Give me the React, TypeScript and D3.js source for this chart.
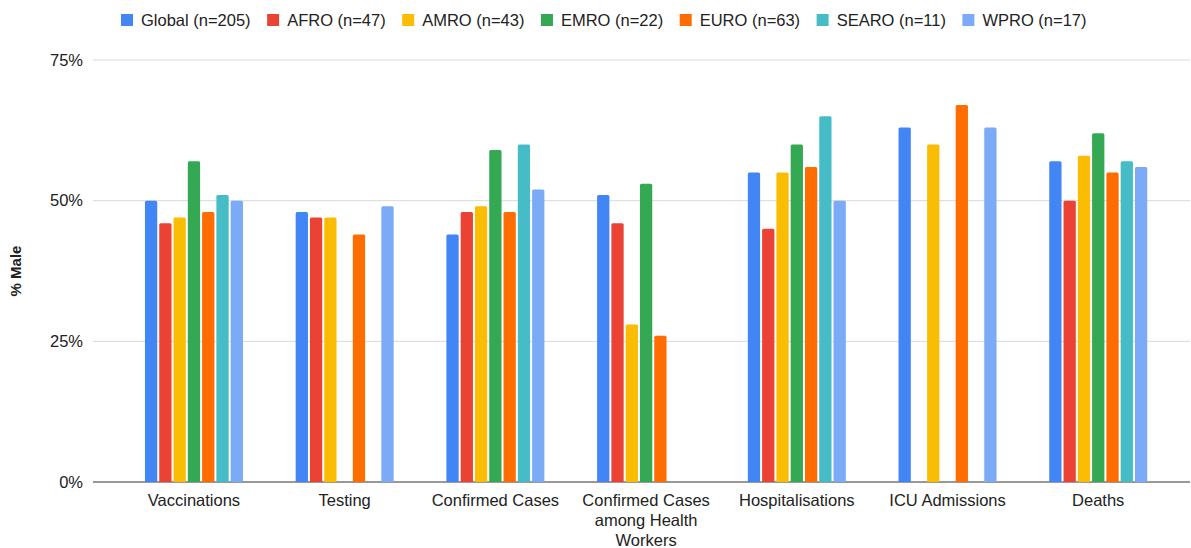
import React, { useEffect, useRef } from 'react';
import * as d3 from 'd3';

const categories = ['Vaccinations', 'Testing', 'Confirmed Cases', 'Confirmed Cases among Health Workers', 'Hospitalisations', 'ICU Admissions', 'Deaths'];
const categoryLines = [['Vaccinations'], ['Testing'], ['Confirmed Cases'], ['Confirmed Cases', 'among Health', 'Workers'], ['Hospitalisations'], ['ICU Admissions'], ['Deaths']];

const seriesNames = ['Global (n=205)', 'AFRO (n=47)', 'AMRO (n=43)', 'EMRO (n=22)', 'EURO (n=63)', 'SEARO (n=11)', 'WPRO (n=17)'];
const colors = ['#4285F4', '#EA4335', '#FBBC04', '#34A853', '#FF6D01', '#46BDC6', '#7BAAF7'];

// % male per category, one array per series (null = no data)
const globalVals = [50, 48, 44, 51, 55, 63, 57];
const afroVals = [46, 47, 48, 46, 45, null, 50];
const amroVals = [47, 47, 49, 28, 55, 60, 58];
const emroVals = [57, null, 59, 53, 60, null, 62];
const euroVals = [48, 44, 48, 26, 56, 67, 55];
const searoVals = [51, null, 60, null, 65, null, 57];
const wproVals = [50, 49, 52, null, 50, 63, 56];
const seriesValues = [globalVals, afroVals, amroVals, emroVals, euroVals, searoVals, wproVals];

const yTicks = [0, 25, 50, 75];

export default function App() {
    const ref = useRef<SVGSVGElement | null>(null);

    useEffect(() => {
        const svg = d3.select(ref.current);
        svg.selectAll('*').remove();
        const width = 1191, height = 548;
        const font = '"Liberation Sans", Arial, sans-serif';
        const gridLeft = 93, gridRight = 1190;

        const x = d3.scaleBand<string>().domain(categories).range([118.6, 1173.6]);
        const xs = d3.scaleBand<string>().domain(seriesNames).range([-49, 49]).paddingInner(0.14);
        const y = d3.scaleLinear().domain([0, 75]).range([482, 60]);

        svg.attr('viewBox', `0 0 ${width} ${height}`).style('font-family', font);

        // grid
        svg.append('g').selectAll('line').data(yTicks).join('line')
            .attr('x1', gridLeft).attr('x2', gridRight)
            .attr('y1', d => y(d)).attr('y2', d => y(d))
            .attr('stroke', d => d === 0 ? '#333' : '#d9d9d9')
            .attr('stroke-width', 1);

        svg.append('g').selectAll('text').data(yTicks).join('text')
            .attr('x', 83).attr('y', d => y(d)).attr('dy', '0.35em')
            .attr('text-anchor', 'end').attr('font-size', 16.5).attr('fill', '#222')
            .text(d => d + '%');

        svg.append('text')
            .attr('transform', `translate(21,${y(37.5)}) rotate(-90)`)
            .attr('text-anchor', 'middle').attr('font-size', 15).attr('font-weight', 'bold').attr('fill', '#222')
            .text('% Male');

        // bars
        seriesNames.forEach((name, si) => {
            const data = categories.map((c, ci) => ({ c, v: seriesValues[si][ci] })).filter(d => d.v != null) as { c: string, v: number }[];
            svg.append('g').selectAll('path').data(data).join('path')
                .attr('fill', colors[si])
                .attr('d', d => {
                    const x0 = (x(d.c) as number) + x.bandwidth() / 2 + (xs(name) as number);
                    const w = xs.bandwidth();
                    const y0 = y(d.v), y1 = y(0), r = 1.5;
                    return `M${x0},${y1}V${y0 + r}Q${x0},${y0} ${x0 + r},${y0}H${x0 + w - r}Q${x0 + w},${y0} ${x0 + w},${y0 + r}V${y1}Z`;
                });
        });

        // x labels
        const xl = svg.append('g');
        categories.forEach((c, ci) => {
            const t = xl.append('text')
                .attr('x', (x(c) as number) + x.bandwidth() / 2)
                .attr('y', 506)
                .attr('text-anchor', 'middle').attr('font-size', 16.5).attr('fill', '#222');
            categoryLines[ci].forEach((line, li) => {
                t.append('tspan').attr('x', (x(c) as number) + x.bandwidth() / 2).attr('dy', li === 0 ? 0 : 20).text(line);
            });
        });

        // legend
        const legend = svg.append('g');
        let lx = 121;
        seriesNames.forEach((name, si) => {
            legend.append('rect').attr('x', lx).attr('y', 14).attr('width', 12).attr('height', 12).attr('fill', colors[si]);
            const t = legend.append('text').attr('x', lx + 20).attr('y', 20).attr('dy', '0.35em')
                .attr('font-size', 16.5).attr('fill', '#222').text(name);
            const w = (t.node() as SVGTextElement).getComputedTextLength();
            lx += 20 + w + 16.5;
        });
    }, []);

    return <svg ref={ref} width={1191} height={548} style={{ display: 'block', position: 'absolute', left: 0, top: 0 }} />;
}
